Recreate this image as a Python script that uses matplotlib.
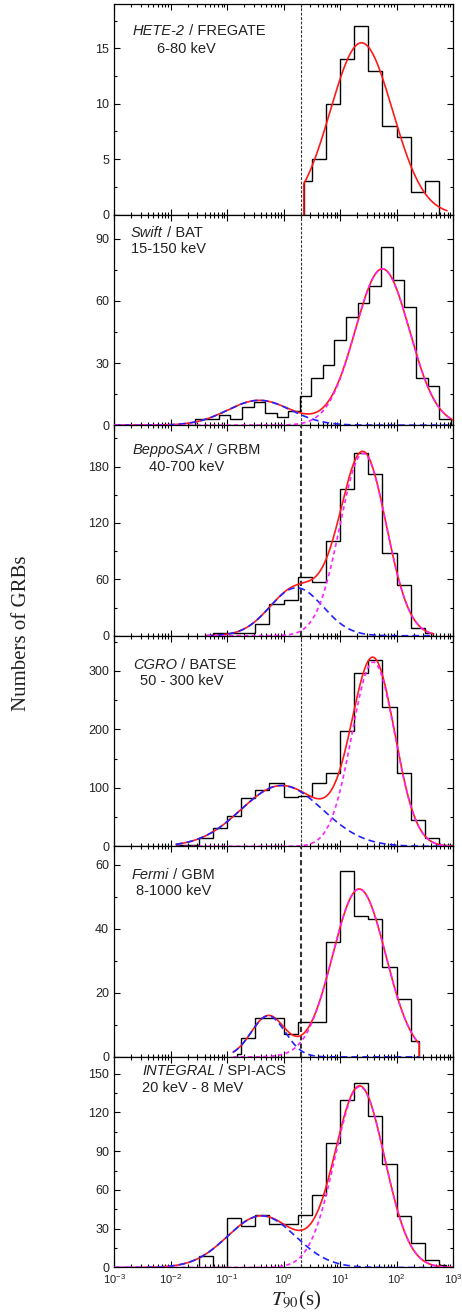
import numpy as np
import matplotlib
matplotlib.use('Agg')
import matplotlib.pyplot as plt
from matplotlib.ticker import MultipleLocator, LogLocator, LogFormatterSciNotation, NullFormatter

plt.rcParams['font.family'] = ['Liberation Sans', 'DejaVu Sans']
plt.rcParams['mathtext.fontset'] = 'stix'

#############################################################################
# T90 histograms (bin edges in log10 seconds) and two-lognormal fits
#############################################################################

hete_edges = [0.36, 0.50, 0.75, 1.00, 1.25, 1.50, 1.75, 2.00, 2.25, 2.50, 2.75]
hete_counts = [3, 5, 10, 14, 17, 13, 8, 7, 2, 3]

swift_edges = [-1.56, -1.35, -1.15, -0.94, -0.74, -0.53, -0.33, -0.12, 0.08, 0.29, 0.49,
               0.70, 0.90, 1.11, 1.31, 1.52, 1.73, 1.93, 2.14, 2.34, 2.55, 2.75, 2.96]
swift_counts = [3, 3, 5, 3, 9, 11, 6, 4, 7, 14, 23, 29, 41, 52, 59, 67, 86, 70, 57, 23, 19, 3]

sax_edges = [-1.25, -1.00, -0.75, -0.50, -0.25, 0.00, 0.25, 0.50, 0.75, 1.00, 1.25,
             1.50, 1.75, 2.00, 2.25, 2.50, 2.65]
sax_counts = [3, 3, 3, 12, 34, 38, 62, 57, 101, 156, 194, 172, 88, 54, 8, 3]

batse_edges = [-1.90, -1.50, -1.25, -1.00, -0.75, -0.50, -0.25, 0.00, 0.25, 0.50, 0.75,
               1.00, 1.25, 1.50, 1.75, 2.00, 2.25, 2.50, 2.75, 3.00]
batse_counts = [3, 15, 31, 52, 82, 97, 108, 84, 86, 108, 125, 197, 297, 318, 238, 125, 45, 15, 3]

fermi_edges = [-0.82, -0.75, -0.50, -0.25, 0.00, 0.25, 0.50, 0.75, 1.00, 1.25, 1.50,
               1.75, 2.00, 2.25, 2.40]
fermi_counts = [1, 6, 12, 12, 7, 11, 11, 36, 58, 44, 43, 28, 18, 5]

integral_edges = [-1.50, -1.25, -1.00, -0.75, -0.50, -0.25, 0.00, 0.25, 0.50, 0.75, 1.00,
                  1.25, 1.50, 1.75, 2.00, 2.25, 2.50, 2.75, 2.88]
integral_counts = [9, 0, 38, 32, 41, 34, 34, 41, 56, 96, 130, 143, 117, 80, 40, 19, 6, 2]

# fit components: (amplitude, mean log10 T90, sigma)
hete_long = (15.5, 1.38, 0.55)
swift_short = (12.0, -0.43, 0.56)
swift_long = (75.5, 1.75, 0.48)
sax_short = (51.0, 0.23, 0.47)
sax_long = (194.0, 1.41, 0.41)
batse_short = (104.0, -0.03, 0.72)
batse_long = (315.0, 1.59, 0.38)
fermi_short = (12.8, -0.27, 0.30)
fermi_long = (52.4, 1.34, 0.47)
integral_short = (40.0, -0.39, 0.60)
integral_long = (140.0, 1.35, 0.44)

# range of log10 T90 over which each fit is drawn
hete_range = (0.36, 2.89)
swift_range = (-3.0, 3.0)
sax_range = (-1.36, 2.65)
batse_range = (-1.90, 3.0)
fermi_range = (-0.89, 2.40)
integral_range = (-3.0, 3.0)

instruments = ['HETE-2', 'Swift', 'BeppoSAX', 'CGRO', 'Fermi', 'INTEGRAL']
detectors = [' / FREGATE', ' / BAT', ' / GRBM', ' / BATSE', ' / GBM', ' / SPI-ACS']
bands = ['6-80 keV', '15-150 keV', '40-700 keV', '50 - 300 keV', '8-1000 keV', '20 keV - 8 MeV']

#############################################################################
# Plot
#############################################################################

def gauss(x, p):
    a, mu, s = p
    return a * np.exp(-(x - mu)**2 / (2 * s**2))

W, H = 462, 1316
fig, axes = plt.subplots(6, 1, figsize=(W/100, H/100), dpi=100, sharex=True)
fig.subplots_adjust(left=114/W, right=453/W, top=1-4/H, bottom=1-1267.5/H, hspace=0)

panels = [
    dict(edges=hete_edges, counts=hete_counts, short=None, long=hete_long, rng=hete_range,
         ylim=19, major=5, drop=(True, False)),
    dict(edges=swift_edges, counts=swift_counts, short=swift_short, long=swift_long, rng=swift_range,
         ylim=101.7, major=30, drop=(False, False)),
    dict(edges=sax_edges, counts=sax_counts, short=sax_short, long=sax_long, rng=sax_range,
         ylim=224, major=60, drop=(False, False)),
    dict(edges=batse_edges, counts=batse_counts, short=batse_short, long=batse_long, rng=batse_range,
         ylim=360, major=100, drop=(False, False)),
    dict(edges=fermi_edges, counts=fermi_counts, short=fermi_short, long=fermi_long, rng=fermi_range,
         ylim=65.7, major=20, drop=(False, True)),
    dict(edges=integral_edges, counts=integral_counts, short=integral_short, long=integral_long,
         rng=integral_range, ylim=163, major=30, drop=(False, False)),
]

txt_pos = [(133, 31, 157, 49), (131, 233, 131, 249), (133, 450, 149, 467),
           (133, 665, 140, 681), (132, 875, 136, 891), (142, 1071, 142, 1088)]
vline_w = [0.8, 0.8, 1.5, 0.8, 1.5, 0.8]

for i, (ax, p) in enumerate(zip(axes, panels)):
    ax.stairs(p['counts'], 10**np.array(p['edges']), color='black', lw=1.0, zorder=4)

    lo, hi = p['rng']
    xs = np.linspace(lo, hi, 600)
    total = gauss(xs, p['long'])
    if p['short'] is not None:
        total = total + gauss(xs, p['short'])
    xr, yr = xs, total
    if p['drop'][0]:
        xr, yr = np.r_[lo, xr], np.r_[0, yr]
    if p['drop'][1]:
        xr, yr = np.r_[xr, hi], np.r_[yr, 0]
    ax.plot(10**xr, yr, color='#ff1a1a', lw=1.2, zorder=5)
    if p['short'] is not None:
        ax.plot(10**xs, gauss(xs, p['short']), color='#2222ff', lw=1.2,
                dashes=(4, 2.5), zorder=6)
        ax.plot(10**xs, gauss(xs, p['long']), color='#ff22ff', lw=1.2,
                dashes=(2.5, 2), zorder=6)

    ax.axvline(2.0, color='#333333', lw=vline_w[i], dashes=(2.5, 1.5), zorder=3)

    ax.set_xscale('log')
    ax.set_xlim(1e-3, 1e3)
    ax.set_ylim(0, p['ylim'])
    ax.yaxis.set_major_locator(MultipleLocator(p['major']))
    ax.yaxis.set_minor_locator(MultipleLocator(p['major'] / 2))
    ax.xaxis.set_major_locator(LogLocator(base=10, numticks=10))
    ax.xaxis.set_minor_locator(LogLocator(base=10, subs=np.arange(2, 10), numticks=10))
    ax.xaxis.set_minor_formatter(NullFormatter())
    ax.tick_params(which='both', direction='in', top=True, right=True,
                   labelcolor='#222222', width=0.8)
    ax.tick_params(axis='y', labelsize=9)
    ax.tick_params(axis='x', labelsize=8)
    ax.tick_params(which='major', length=4)
    ax.tick_params(which='minor', length=2.2)
    for s in ax.spines.values():
        s.set_linewidth(0.9)

    # instrument / detector label
    x1, y1, x2, y2 = txt_pos[i]
    t = fig.text(x1/W, 1 - y1/H, instruments[i], fontsize=10.5, style='italic',
                 color='#222222', va='center', ha='left')
    ax.annotate(detectors[i], xy=(1, 0.5), xycoords=t, fontsize=10.5, color='#222222',
                va='center', ha='left')
    fig.text(x2/W, 1 - y2/H, bands[i], fontsize=10.5, color='#222222', va='center', ha='left')

axes[-1].xaxis.set_major_formatter(LogFormatterSciNotation())

fig.text(22/W, 1 - 633/H, 'Numbers of GRBs', rotation=90, va='center', ha='center',
         fontsize=15, family='Liberation Serif', color='#222222')
fig.text(296/W, 1 - 1300/H, r'$T_{90}$(s)', va='center', ha='center',
         fontsize=15, family='Liberation Serif', color='#222222')

fig.savefig('out.png', dpi=100)
